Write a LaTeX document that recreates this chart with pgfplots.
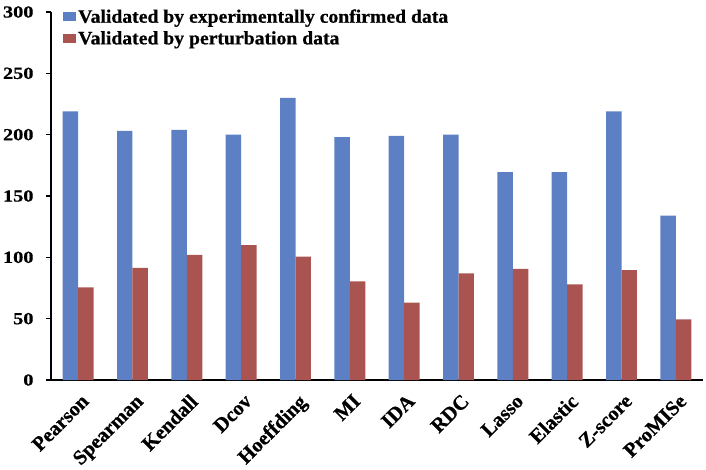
\documentclass[border=0pt]{standalone}
\usepackage{fontspec}
\setmainfont{Liberation Serif}
\newfontfamily\tickfont{Liberation Serif}[FakeStretch=1.2,FakeBold=0.6]
\newfontfamily\xlabfont{Liberation Serif}[FakeBold=0.7]
\newfontfamily\legfont{Liberation Serif}[FakeStretch=1.04,FakeBold=0.6]
\usepackage{pgfplots}
\pgfplotsset{compat=1.18}
\definecolor{cblue}{RGB}{93,128,196}
\definecolor{cred}{RGB}{170,84,82}
\begin{document}
\begin{tikzpicture}
\useasboundingbox (-51bp,-90bp) rectangle (655bp,380bp);
\begin{axis}[
  at={(0,0)}, anchor=south west,
  scale only axis,
  width=652bp, height=368bp,
  xmin=-0.5, xmax=11.5,
  ymin=0, ymax=300,
  ytick={0,50,...,300},
  xtick=data,
  xticklabels={Pearson,Spearman,Kendall,Dcov,Hoeffding,MI,IDA,RDC,Lasso,Elastic,Z-score,ProMISe},
  axis x line=bottom, axis y line=left,
  axis line style={line width=2bp, -},
  x axis line style={-}, y axis line style={-},
  major tick length=5bp,
  x tick style={draw=none},
  y tick style={line width=1.5bp, black},
  tick align=outside,
  /pgf/number format/assume math mode=true,
  yticklabel style={font=\tickfont\bfseries\fontsize{17}{17}\selectfont, xshift=-9bp},
  xticklabel style={font=\xlabfont\bfseries\fontsize{20.5}{20.5}\selectfont, rotate=45, anchor=north east, inner sep=2bp, yshift=-5bp, xshift=-2bp},
  ybar, bar width=0.285,
  legend style={draw=none, fill=none, at={(0.0184,1.013)}, anchor=north west,
    font=\legfont\bfseries\fontsize{19}{19}\selectfont, row sep=3bp, inner sep=0pt,
    legend cell align=left, /tikz/every even column/.append style={column sep=0pt}},
  legend image code/.code={\fill[#1] (0bp,-4bp) rectangle (13bp,5bp);},
]
\addplot[fill=cblue, draw=none, bar shift=-0.1425] coordinates {(0,219) (1,203) (2,204) (3,200) (4,230) (5,198) (6,199) (7,200) (8,169.5) (9,169.5) (10,219) (11,134)};
\addplot[fill=cred, draw=none, bar shift=0.1425] coordinates {(0,75.5) (1,91.5) (2,102) (3,110) (4,100.5) (5,80.5) (6,63) (7,87) (8,90.5) (9,78) (10,89.5) (11,49.5)};
\legend{Validated by experimentally confirmed data, Validated by perturbation data}
\end{axis}
\end{tikzpicture}
\end{document}
